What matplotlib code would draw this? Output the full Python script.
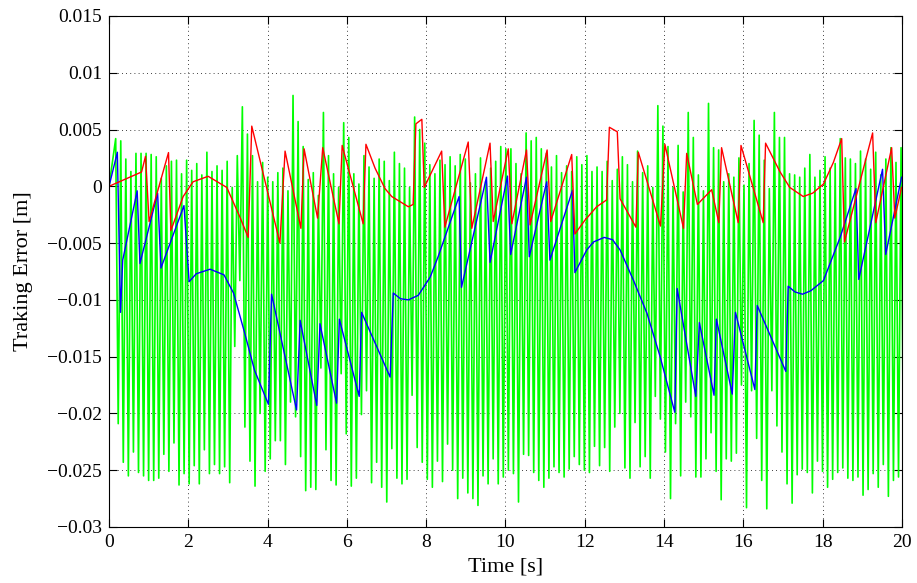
import matplotlib.pyplot as plt
import numpy as np

# ---- fonts / look (MATLAB style figure)
plt.rcParams['font.family'] = ['Liberation Serif', 'DejaVu Serif']
plt.rcParams['axes.unicode_minus'] = True

# ---- data (errors in mm, converted to m below)
# green: alternating peaks / troughs, one of each per cycle
peaks_mm = [
    4.2, 4.0, 2.4, 1.3, 2.9, 2.9, 2.9, 2.8, 2.6, 0.7,
    1.8, 2.2, 2.3, 1.1, 2.3, 1.4, 2.0, 1.0, 3.0, 1.3,
    1.8, 1.4, 2.2, -0.1, 2.7, 7.0, 4.6, 2.7, 0.4, 2.1,
    0.8, 0.4, 1.2, 1.6, -0.4, 8.0, 5.7, 3.5, 0.6,
    1.2, -0.8, 6.5, 2.7, 1.1, -0.1, 5.6, 4.3, 1.1, 0.2,
    2.7, 1.7, 0.7, 2.4, 2.2, 0.5, 3.0, 2.0, 1.6, -0.1,
    6.1, 5.0, 3.8, 1.9, 1.1, 2.3, 1.9, 2.6, 1.8, 2.8,
    2.4, 0.3, 1.1, 2.5, 0.4, 1.6, 2.2, 3.5, 3.3,
    3.3, 2.0, 1.1, 4.7, 4.0, 4.3, 3.3, 2.9, 1.7, 2.7,
    1.2, 1.8, 1.3, 2.6, 1.9, 2.7, 1.3, 1.7, 1.3, 2.2,
    0.5, 1.5, 2.6, 1.9, 0.4, 3.1, 1.2, 1.8, -0.1, 7.1,
    5.3, 3.5, -0.1, 3.6, -0.5, 6.5, 4.3, 1.0, -0.4, 7.3,
    3.4, 3.2, 0.4, 1.1, 0.8, 2.5, 0.1, 2.0, 5.8, 4.5,
    2.3, -0.2, 6.5, 4.3, 4.3, 1.1, 1.0, 0.8, 1.6, 2.8,
    0.8, 1.4, 2.6, 1.6, 2.0, 4.2, 2.5, 2.4, 2.0, 3.1,
    2.4, 1.5, 3.0, 1.0, 2.4, 3.4, 2.1, 3.4,
]
troughs_mm = [
    -20.9, -24.3, -25.5, -23.4, -25.2, -25.5, -25.9, -25.9, -25.7, -23.6,
    -25.1, -22.6, -26.3, -25.3, -26.2, -24.6, -26.2, -23.2, -25.3, -24.5,
    -25.3, -24.7, -26.1, -14.1, -8.3, -21.2, -24.2, -26.4, -20.0, -25.1,
    -24.0, -22.4, -22.4, -24.5, -19.0, -20.3, -23.8, -26.8, -26.5, -26.7,
    -16.0, -23.2, -25.9, -26.3, -16.5, -21.8, -26.4, -25.7, -20.1, -18.0,
    -26.1, -24.3, -26.5, -27.8, -23.1, -25.7, -26.2, -25.8, -18.4, -23.0,
    -24.3, -25.8, -26.5, -24.2, -26.0, -22.7, -25.0, -27.5, -25.7, -27.0,
    -27.5, -28.1, -25.5, -26.2, -24.0, -26.2, -25.6, -25.0, -25.3, -27.8,
    -23.6, -23.7, -25.2, -25.9, -26.5, -25.7, -24.7, -25.2, -25.6, -24.9,
    -23.8, -24.5, -25.0, -25.2, -22.9, -24.6, -23.0, -25.1, -21.2, -20.0,
    -24.8, -25.7, -20.8, -24.7, -23.8, -25.7, -18.5, -20.5, -23.4, -27.5,
    -20.9, -25.5, -19.0, -20.3, -25.6, -25.6, -24.0, -21.7, -25.1, -27.6,
    -24.0, -24.2, -23.5, -17.5, -28.3, -18.0, -22.2, -25.9, -28.4, -18.0,
    -21.1, -23.4, -26.2, -27.9, -25.4, -24.9, -25.2, -27.0, -24.2, -25.1,
    -26.5, -25.8, -25.2, -24.8, -25.7, -25.9, -25.6, -27.2, -26.7, -25.3,
    -26.5, -24.5, -27.3, -25.9, -25.6, -25.0,
]
green_t0 = 0.168     # time of first peak [s]
green_dt = 0.0639    # sample step (peak -> trough) [s]

# blue: (time, error mm)
blue_t = [0, 0.21, 0.29, 0.345, 0.71, 0.78, 1.225, 1.31, 1.89, 2.02,
          2.2, 2.55, 2.9, 3.14, 3.42, 3.67, 4.02, 4.10, 4.73, 4.82,
          5.24, 5.32, 5.74, 5.81, 6.31, 6.37, 7.09, 7.17, 7.35, 7.55,
          7.8, 8.1, 8.3, 8.52, 8.83, 8.89, 9.52, 9.61, 10.05, 10.13,
          10.53, 10.60, 11.04, 11.12, 11.69, 11.75, 12.05, 12.22, 12.49, 12.7,
          12.89, 13.23, 13.57, 13.9, 14.27, 14.33, 14.80, 14.89, 15.26, 15.32,
          15.72, 15.80, 16.29, 16.35, 17.07, 17.13, 17.3, 17.49, 17.7, 18.02,
          18.44, 18.84, 18.91, 19.51, 19.59, 19.99]
blue_mm = [0, 3.0, -11.1, -6.5, -0.4, -6.8, -0.6, -7.2, -1.7, -8.4,
           -7.7, -7.3, -7.8, -9.4, -12.9, -16.2, -19.2, -9.5, -19.7, -11.8,
           -19.3, -12.1, -19.1, -11.7, -18.5, -11.1, -16.8, -9.4, -9.9, -10.0,
           -9.6, -8.0, -6.2, -4.0, -0.9, -8.9, 0.8, -6.7, 0.9, -6.0,
           0.8, -6.2, 0.4, -6.5, -0.35, -7.6, -5.6, -4.9, -4.5, -4.7,
           -5.6, -8.3, -11.2, -15.0, -19.9, -9.0, -18.5, -12.0, -18.4, -11.7,
           -18.3, -11.1, -17.9, -10.5, -16.3, -8.8, -9.3, -9.5, -9.2, -8.3,
           -4.5, -0.2, -8.2, 1.5, -6.0, 0.8]

# red: (time, error mm)
red_t = [0, 0.82, 0.92, 1.01, 1.50, 1.56, 1.87, 2.12, 2.50, 2.97,
         3.30, 3.51, 3.60, 4.31, 4.44, 4.84, 4.92, 5.26, 5.39, 5.80,
         5.88, 6.41, 6.48, 6.71, 6.96, 7.13, 7.55, 7.67, 7.74, 7.89,
         7.95, 8.39, 8.47, 9.06, 9.15, 9.61, 9.69, 10.07, 10.16, 10.53,
         10.62, 11.05, 11.14, 11.67, 11.75, 12.0, 12.3, 12.55, 12.62, 12.82,
         12.89, 13.29, 13.35, 13.91, 14.02, 14.49, 14.57, 14.84, 15.20, 15.38,
         15.45, 15.87, 15.94, 16.50, 16.56, 16.92, 17.17, 17.51, 17.75, 18.02,
         18.27, 18.48, 18.55, 19.26, 19.34, 19.74, 19.82, 19.99]
red_mm = [0, 1.26, 2.64, -3.1, 2.97, -3.9, -0.9, 0.4, 0.88, -0.1,
          -2.7, -4.5, 5.3, -5.0, 3.1, -3.7, 3.3, -2.8, 3.4, -3.3,
          3.6, -3.3, 3.7, 1.6, -0.2, -0.9, -1.8, -1.6, 5.5, 5.9,
          -0.1, 3.1, -3.6, 3.9, -3.7, 3.8, -3.1, 3.3, -3.3, 3.2,
          -3.4, 3.2, -3.1, 2.8, -4.2, -3.0, -1.8, -1.2, 5.2, 4.8,
          -1.1, -3.6, 3.0, -3.5, 3.7, -3.7, 2.9, -1.6, -0.3, -3.2,
          3.4, -3.2, 3.6, -3.2, 3.8, 1.3, -0.1, -0.9, -0.6, 0.2,
          2.1, 4.2, -4.9, 4.7, -3.2, 3.4, -2.8, -0.1]

yticks = [0.015, 0.01, 0.005, 0, -0.005, -0.01, -0.015, -0.02, -0.025, -0.03]
ytick_labels = ['0.015', '0.01', '0.005', '0', '\u22120.005', '\u22120.01',
                '\u22120.015', '\u22120.02', '\u22120.025', '\u22120.03']
xticks = [0, 2, 4, 6, 8, 10, 12, 14, 16, 18, 20]

# ---- build green series: start at 0, then peak / trough alternating
g_vals = np.empty(2 * len(peaks_mm))
g_vals[0::2] = peaks_mm
g_vals[1::2] = troughs_mm
g_t = green_t0 + np.arange(len(g_vals)) * green_dt
g_t = np.concatenate([[0.0], g_t])
g_vals = np.concatenate([[0.0], g_vals]) * 1e-3

# ---- plot
fig = plt.figure(figsize=(9.17, 5.83), dpi=100)
ax = fig.add_axes([0.1189, 0.0961, 0.8647, 0.8765])

ax.plot(g_t, g_vals, color='#00ff00', lw=1.2)
ax.plot(blue_t, np.array(blue_mm) * 1e-3, color='#0000ff', lw=1.0)
ax.plot(red_t, np.array(red_mm) * 1e-3, color='#ff0000', lw=1.0)

ax.set_xlim(0, 20)
ax.set_ylim(-0.03, 0.015)
ax.set_xticks(xticks)
ax.set_xticklabels([str(x) for x in xticks])
ax.set_yticks(yticks)
ax.set_yticklabels(ytick_labels)

ax.grid(True, color='black', linestyle=(0, (1, 4)), linewidth=0.6)
ax.tick_params(direction='in', top=True, right=True, length=6,
               labelsize=14, width=0.8, pad=5)
for s in ax.spines.values():
    s.set_linewidth(0.8)

ax.set_xlabel('Time [s]', fontsize=16, labelpad=5)
ax.set_ylabel('Traking Error [m]', fontsize=16, labelpad=10)

fig.savefig('out.png', dpi=100, facecolor='white')
